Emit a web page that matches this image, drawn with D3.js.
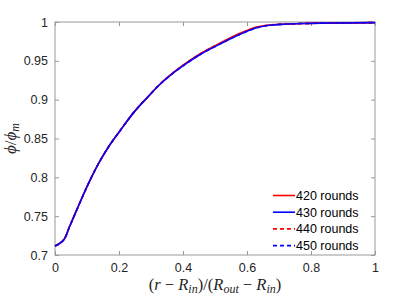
<!DOCTYPE html>
<html>
<head>
<meta charset="utf-8">
<script src="https://cdn.jsdelivr.net/npm/d3@7"></script>
<style>
  body { margin: 0; background: #fff; }
  text { font-family: "Liberation Sans", Arial, sans-serif; }
</style>
</head>
<body>
<svg width="415" height="296"></svg>
<script>
// radial positions (normalised)
const xs = [0, 0.02, 0.03, 0.045, 0.07, 0.1, 0.135, 0.17, 0.205, 0.245, 0.29, 0.33, 0.37, 0.41, 0.455, 0.515, 0.58, 0.63, 0.67, 0.72, 0.77, 0.85, 1.0];

// phi / phi_m for each run
const r420 = [0.7116, 0.7165, 0.721, 0.736, 0.760, 0.788, 0.817, 0.841, 0.861, 0.883, 0.9035, 0.9208, 0.935, 0.9473, 0.9595, 0.9727, 0.9857, 0.9935, 0.9962, 0.9973, 0.9981, 0.9986, 0.9992];
const r430 = [0.7116, 0.7165, 0.721, 0.736, 0.760, 0.788, 0.817, 0.841, 0.861, 0.883, 0.9035, 0.9205, 0.9345, 0.9465, 0.9585, 0.9715, 0.9845, 0.9925, 0.9958, 0.9972, 0.998, 0.9986, 0.9992];
const r440 = [0.7116, 0.7165, 0.721, 0.736, 0.760, 0.788, 0.817, 0.841, 0.861, 0.883, 0.9035, 0.9207, 0.9348, 0.947, 0.9592, 0.9724, 0.9853, 0.9932, 0.9961, 0.9972, 0.998, 0.9986, 0.9992];
const r450 = [0.7116, 0.7165, 0.721, 0.736, 0.760, 0.788, 0.817, 0.841, 0.861, 0.883, 0.9035, 0.9205, 0.9345, 0.9465, 0.9585, 0.9715, 0.9845, 0.9925, 0.9958, 0.9972, 0.998, 0.9986, 0.9992];

const xTicks = [0, 0.2, 0.4, 0.6, 0.8, 1];
const yTicks = [0.7, 0.75, 0.8, 0.85, 0.9, 0.95, 1];

const series = [
  { name: "420 rounds", vals: r420, color: "#ff0000", dash: null },
  { name: "430 rounds", vals: r430, color: "#0000ff", dash: null },
  { name: "440 rounds", vals: r440, color: "#ff0000", dash: "4,3" },
  { name: "450 rounds", vals: r450, color: "#0000ff", dash: "4,3" }
];

const svg = d3.select("svg");
const pLeft = 55, pRight = 375, pTop = 22, pBottom = 255;

const x = d3.scaleLinear().domain([0, 1]).range([pLeft, pRight]);
const y = d3.scaleLinear().domain([0.7, 1]).range([pBottom, pTop]);

const axisColor = "#999";
const labelColor = "#262626";
const tickLen = 4;

// box
svg.append("rect")
    .attr("x", pLeft).attr("y", pTop)
    .attr("width", pRight - pLeft).attr("height", pBottom - pTop)
    .attr("fill", "none")
    .attr("stroke", axisColor)
    .attr("stroke-width", 1);

// axes with inward ticks
function styleAxis(g) {
  g.select(".domain").remove();
  g.selectAll(".tick line").attr("stroke", axisColor);
  g.selectAll(".tick text")
      .attr("fill", labelColor)
      .style("font-family", "'Liberation Sans', Arial, sans-serif")
      .style("font-size", "12.5px");
}

svg.append("g")
    .attr("transform", `translate(0,${pBottom})`)
    .call(d3.axisBottom(x).tickValues(xTicks).tickFormat(d3.format("~g"))
      .tickSizeInner(-tickLen).tickSizeOuter(0).tickPadding(8))
    .call(styleAxis);

svg.append("g")
    .attr("transform", `translate(0,${pTop})`)
    .call(d3.axisTop(x).tickValues(xTicks).tickFormat("")
      .tickSizeInner(-tickLen).tickSizeOuter(0))
    .call(styleAxis);

svg.append("g")
    .attr("transform", `translate(${pLeft},0)`)
    .call(d3.axisLeft(y).tickValues(yTicks).tickFormat(d3.format("~g"))
      .tickSizeInner(-tickLen).tickSizeOuter(0).tickPadding(7))
    .call(styleAxis);

svg.append("g")
    .attr("transform", `translate(${pRight},0)`)
    .call(d3.axisRight(y).tickValues(yTicks).tickFormat("")
      .tickSizeInner(-tickLen).tickSizeOuter(0))
    .call(styleAxis);

// curves
const line = d3.line()
    .x((d, i) => x(xs[i]))
    .y(d => y(d))
    .curve(d3.curveMonotoneX);

svg.append("g")
  .selectAll("path")
  .data(series)
  .join("path")
    .attr("d", d => line(d.vals))
    .attr("fill", "none")
    .attr("stroke", d => d.color)
    .attr("stroke-width", 1.6)
    .attr("stroke-dasharray", d => d.dash);

// legend
const legend = svg.append("g");
const row = legend.selectAll("g")
  .data(series)
  .join("g")
    .attr("transform", (d, i) => `translate(273,${195.5 + i * 16.7})`);

row.append("line")
    .attr("x1", 0).attr("x2", 22)
    .attr("stroke", d => d.color)
    .attr("stroke-width", 1.6)
    .attr("stroke-dasharray", d => d.dash);

row.append("text")
    .attr("x", 23)
    .attr("dy", "0.36em")
    .attr("fill", "#000")
    .style("font-size", "12.5px")
    .text(d => d.name);

// axis labels (LaTeX-like)
const serif = "'Liberation Serif', 'DejaVu Serif', serif";

const xl = svg.append("text")
    .attr("x", (pLeft + pRight) / 2)
    .attr("y", 290)
    .attr("text-anchor", "middle")
    .attr("fill", labelColor)
    .style("font-family", serif)
    .style("font-size", "16.5px");

function part(el, txt, opt = {}) {
  const t = el.append("tspan").text(txt);
  if (opt.it) t.style("font-style", "italic");
  if (opt.sub) t.attr("baseline-shift", "-25%").style("font-size", "12px").style("font-style", "italic");
  return t;
}

part(xl, "(");
part(xl, "r", { it: true });
part(xl, " \u2212 ");
part(xl, "R", { it: true });
part(xl, "in", { sub: true });
part(xl, ")/(");
part(xl, "R", { it: true });
part(xl, "out", { sub: true });
part(xl, " \u2212 ");
part(xl, "R", { it: true });
part(xl, "in", { sub: true });
part(xl, ")");

const yl = svg.append("text")
    .attr("transform", `translate(16,${(pTop + pBottom) / 2}) rotate(-90)`)
    .attr("text-anchor", "middle")
    .attr("fill", labelColor)
    .style("font-family", serif)
    .style("font-size", "17px");

part(yl, "\u03d5", { it: true });
part(yl, "/");
part(yl, "\u03d5", { it: true });
part(yl, "m", { sub: true });
</script>
</body>
</html>
